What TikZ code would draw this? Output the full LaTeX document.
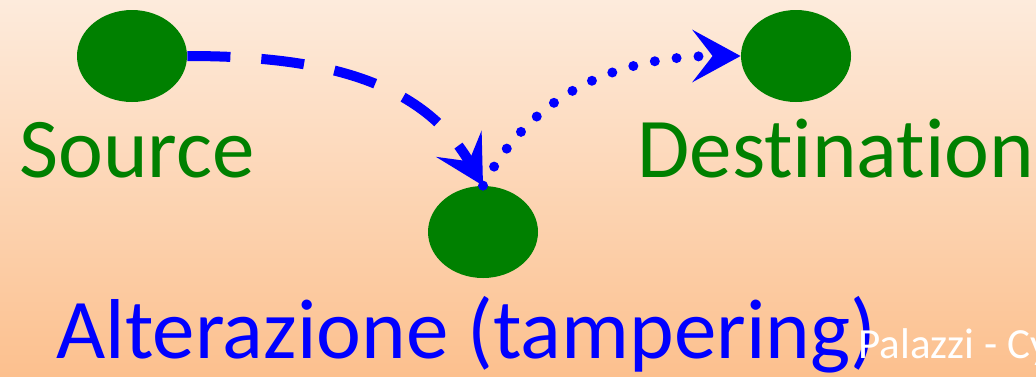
\documentclass[tikz,border=0pt]{standalone}
\usepackage{fontspec}
\setmainfont{Carlito}[Ligatures=NoCommon]
\usetikzlibrary{arrows.meta,shapes.geometric}
\definecolor{bgtop}{RGB}{253,235,220}
\definecolor{bgbot}{RGB}{252,192,142}
\definecolor{nodegreen}{RGB}{0,128,0}
\tikzset{
  atkent/.style={ellipse, fill=nodegreen, draw=none, minimum width=55pt,
                 minimum height=46pt, inner sep=0pt},
  atklab/.style={anchor=base west, inner sep=0pt, text=nodegreen,
                 font=\fontsize{42.5}{50}\selectfont},
  atktip/.style={-{Stealth[length=24pt, width=26pt, inset=10pt]}},
  atkdash/.style={atktip, draw=blue, line width=5pt,
                  dash pattern=on 21.5pt off 15.5pt},
  atkdot/.style={atktip, draw=blue, line width=5pt, line cap=round,
                 dash pattern=on 0pt off 11pt},
}
\begin{document}
\begin{tikzpicture}[x=0.5pt, y=-0.5pt]
  % background
  \shade[top color=bgtop, bottom color=bgbot] (0,0) rectangle (1036,376);
  \useasboundingbox (0,0) rectangle (1036,376);
  \begin{scope}
  \clip (0,0) rectangle (1036,376);
  \node[atkent] (src) at (132,56) {};
  \node[atkent] (dst) at (796,56) {};
  \node[atkent] (alt) at (483,232) {};
  \node[atklab] (srclab) at (19,177) {Source};
  \node[atklab] (dstlab) at (637,177) {Destination};
  \node[atklab, text=blue] (altlab) at (56,358) {Alterazione (tampering)};
  \node[anchor=base west, inner sep=0pt, text=white,
        font=\fontsize{21.5}{26}\selectfont] (foot) at (858,358) {Palazzi - Cy};
  \draw[atkdash] (src.east) to[out=0, in=120] (alt.north);
  \draw[atkdot] (alt.north) to[out=62, in=180] (dst.west);
  \end{scope}
\end{tikzpicture}
\end{document}
